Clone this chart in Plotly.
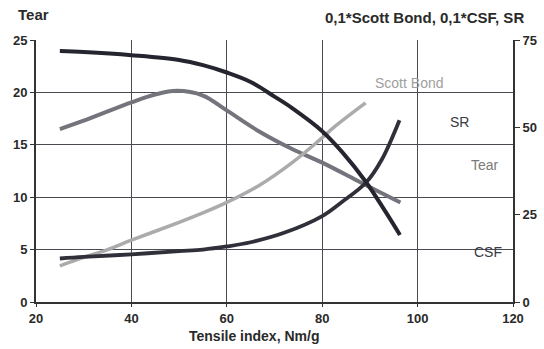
import plotly.graph_objects as go

# Data
csf_x = [25, 30, 40, 50, 55, 60, 65, 70, 73.7, 80, 84.2, 89.1, 93.3, 96.3]
csf_y = [23.95, 23.85, 23.55, 23.1, 22.6, 21.9, 21.0, 19.6, 18.5, 16.3, 14.3, 11.5, 8.6, 6.4]

sr_x = [25, 30, 40, 50, 55, 60, 65, 72, 80, 84, 89.2, 92.5, 96.2]
sr_y = [4.15, 4.3, 4.55, 4.85, 5.0, 5.3, 5.7, 6.6, 8.2, 9.5, 11.4, 13.6, 17.35]

tear_x = [25, 30, 40, 45, 49.5, 55, 59.6, 66.7, 73.7, 80, 87.7, 92.4, 96.4]
tear_y = [16.5, 17.3, 19.05, 19.8, 20.15, 19.7, 18.4, 16.3, 14.6, 13.3, 11.5, 10.4, 9.5]

sb_x = [25, 30, 35, 40, 50, 55, 60, 66.7, 73.7, 79.3, 82.8, 89.1]
sb_y = [3.45, 4.25, 5.0, 5.9, 7.6, 8.5, 9.5, 11.1, 13.3, 15.4, 16.8, 19.0]

x_ticks = [20, 40, 60, 80, 100, 120]
left_ticks = [0, 5, 10, 15, 20, 25]
right_ticks = [0, 25, 50, 75]

labels = [("Scott Bond", 98.2, 20.9, "#a0a0a0"),
          ("SR", 108.7, 17.2, "#3a3a44"),
          ("Tear", 114.1, 13.1, "#7a7a7a"),
          ("CSF", 114.8, 4.8, "#3a3a44")]

FONT = "Liberation Sans, Arial, sans-serif"
L, R, T, B = 36, 31, 40, 47
PW, PH = 544 - L - R, 349 - T - B


def px(xp):
    return (xp - L) / PW


def py(yp):
    return (349 - B - yp) / PH


fig = go.Figure()
fig.add_trace(go.Scatter(x=tear_x, y=tear_y, mode="lines",
                         line=dict(color="#74747c", width=4, shape="spline")))
fig.add_trace(go.Scatter(x=sb_x, y=sb_y, mode="lines",
                         line=dict(color="#ababab", width=3.5, shape="spline")))
fig.add_trace(go.Scatter(x=sr_x, y=sr_y, mode="lines",
                         line=dict(color="#30303a", width=3.8, shape="spline")))
fig.add_trace(go.Scatter(x=csf_x, y=csf_y, mode="lines",
                         line=dict(color="#25252f", width=4, shape="spline")))
# invisible trace to show right axis
fig.add_trace(go.Scatter(x=[20, 120], y=[0, 75], mode="lines", yaxis="y2",
                         line=dict(color="rgba(0,0,0,0)"), hoverinfo="skip"))

for text, lx, ly, col in labels:
    fig.add_annotation(x=lx, y=ly, text=text, showarrow=False,
                       font=dict(family=FONT, size=14, color=col))

fig.add_annotation(xref="paper", yref="paper", x=px(33), y=py(15),
                   xanchor="center", yanchor="middle", text="<b>Tear</b>",
                   showarrow=False, font=dict(family=FONT, size=15, color="#2a2a2a"))
fig.add_annotation(xref="paper", yref="paper", x=px(424), y=py(17),
                   xanchor="center", yanchor="middle",
                   text="<b>0,1*Scott Bond, 0,1*CSF, SR</b>",
                   showarrow=False, font=dict(family=FONT, size=15, color="#2a2a2a"))
fig.add_annotation(xref="paper", yref="paper", x=px(254), y=py(336),
                   xanchor="center", yanchor="middle",
                   text="<b>Tensile index, Nm/g</b>",
                   showarrow=False, font=dict(family=FONT, size=14, color="#2a2a2a"))

grid = "#4a4a52"
tickfont = dict(family=FONT, size=13, color="#2a2a2a")
fig.update_layout(
    width=544, height=349,
    margin=dict(l=L, r=R, t=T, b=B, autoexpand=False),
    paper_bgcolor="white", plot_bgcolor="white",
    showlegend=False,
    font=dict(family=FONT, size=12, color="#222"),
    xaxis=dict(range=[20, 120], tickvals=x_ticks,
               ticktext=[f"<b>{v}</b>" for v in x_ticks], tickfont=tickfont,
               showgrid=True, gridcolor=grid, gridwidth=1.3,
               showline=True, linecolor="#333", linewidth=2,
               ticks="outside", ticklen=3, tickcolor="#333", zeroline=False),
    yaxis=dict(range=[0, 25], tickvals=left_ticks,
               ticktext=[f"<b>{v}</b>" for v in left_ticks], tickfont=tickfont,
               showgrid=True, gridcolor=grid, gridwidth=1.3,
               showline=True, linecolor="#333", linewidth=2,
               ticks="outside", ticklen=4, tickcolor="#333", zeroline=False),
    yaxis2=dict(range=[0, 75], tickvals=right_ticks,
                ticktext=[f"<b>{v}</b>" for v in right_ticks], tickfont=tickfont,
                overlaying="y", side="right", showgrid=False,
                showline=True, linecolor="#333", linewidth=2,
                ticks="outside", ticklen=5, tickcolor="#333", zeroline=False),
)

fig.write_html("out.html", config={"displayModeBar": False},
               post_script="document.body.style.margin='0';document.body.style.overflow='hidden';")
